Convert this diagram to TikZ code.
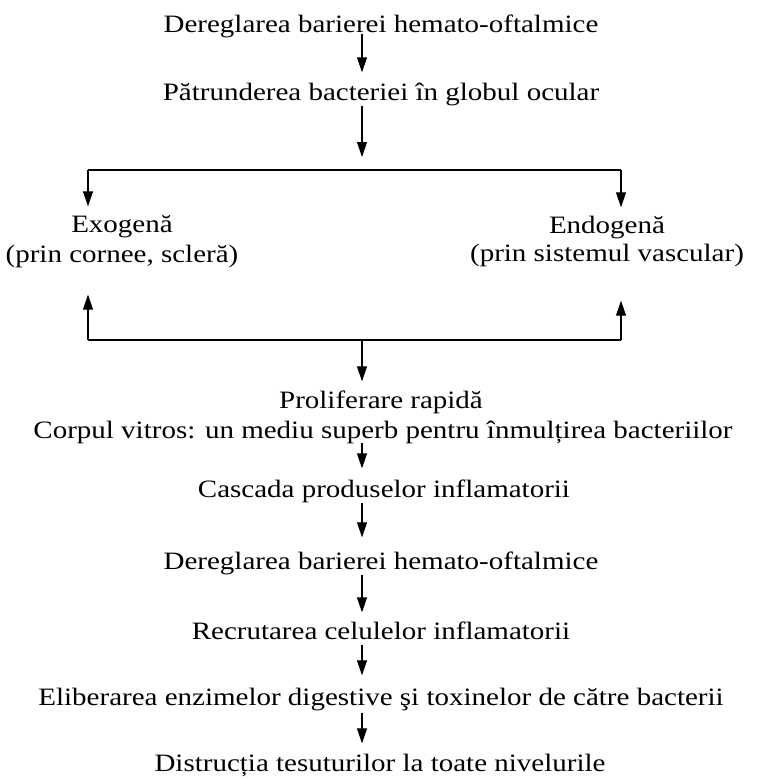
\documentclass[tikz,border=0pt]{standalone}
\usepackage{fontspec}
\setmainfont{Liberation Serif}[FakeStretch=1.16]
\usetikzlibrary{arrows.meta}

\begin{document}
\begin{tikzpicture}[x=1pt,y=-1pt,
    txt/.style={inner sep=0pt, anchor=base, font=\fontsize{25}{31}\selectfont,
        text height=17.5pt, text depth=5.5pt},
    linie/.style={line width=1.2pt},
    sageata/.style={line width=1.2pt, -{Triangle[length=15pt,width=10pt]}}]
    % 固定画布大小
    \useasboundingbox (0,0) rectangle (759,779);
    
    % 箭头所在的竖线位置
    \coordinate (ax) at (362,0);
    
    % 绘制上部文字
    \node[txt] (dereg1) at (381,32) {Dereglarea barierei hemato-oftalmice};
    \node[txt] (patr) at (381,100) {Pătrunderea bacteriei în globul ocular};
    
    % 绘制两条分支的文字
    \node[txt] (exo) at (122,232) {Exogenă};
    \node[txt] (exoB) at (122,262) {(prin cornee, scleră)};
    \node[txt] (endo) at (607,233) {Endogenă};
    \node[txt] (endoB) at (607,261) {(prin sistemul vascular)};
    
    % 绘制下部文字
    \node[txt] (prolif) at (381,408) {Proliferare rapidă};
    \node[txt] (corp) at (383,438) {Corpul vitros: un mediu superb pentru înmulțirea bacteriilor};
    \node[txt] (casc) at (384,497) {Cascada produselor inflamatorii};
    \node[txt] (dereg2) at (381,569) {Dereglarea barierei hemato-oftalmice};
    \node[txt] (recrut) at (381,639) {Recrutarea celulelor inflamatorii};
    \node[txt] (elib) at (381,705) {Eliberarea enzimelor digestive şi toxinelor de către bacterii};
    \node[txt] (distr) at (380,771) {Distrucția tesuturilor la toate nivelurile};
    
    % 绘制分支线的端点
    \coordinate (stSus) at (88,170);
    \coordinate (drSus) at (621,170);
    \coordinate (mijSus) at (362,170);
    \coordinate (stJos) at (88,340);
    \coordinate (drJos) at (621,340);
    \coordinate (mijJos) at (362,340);
    
    % 绘制上部箭头
    \draw[sageata, shorten <=-4pt, shorten >=10pt] (dereg1.south -| ax) -- (patr.north -| ax);
    \draw[sageata, shorten >=13pt] (patr.south -| ax) -- (mijSus);
    
    % 绘制分支线和箭头
    \draw[linie] (stSus) -- (drSus);
    \draw[sageata, shorten >=8pt] (stSus) -- (exo.north -| stSus);
    \draw[sageata, shorten >=8pt] (drSus) -- (endo.north -| drSus);
    \draw[linie] (stJos) -- (drJos);
    \draw[sageata, shorten >=27pt] (stJos) -- (exoB.south -| stJos);
    \draw[sageata, shorten >=34pt] (drJos) -- (endoB.south -| drJos);
    \draw[sageata, shorten >=9pt] (mijJos) -- (prolif.north -| ax);
    
    % 绘制下部箭头
    \draw[sageata, shorten <=-1pt, shorten >=11pt] (corp.south -| ax) -- (casc.north -| ax);
    \draw[sageata, shorten >=14pt] (casc.south -| ax) -- (dereg2.north -| ax);
    \draw[sageata, shorten >=9pt] (dereg2.south -| ax) -- (recrut.north -| ax);
    \draw[sageata, shorten >=12pt] (recrut.south -| ax) -- (elib.north -| ax);
    \draw[sageata, shorten <=2pt, shorten >=10pt] (elib.south -| ax) -- (distr.north -| ax);
    
\end{tikzpicture}
\end{document}
